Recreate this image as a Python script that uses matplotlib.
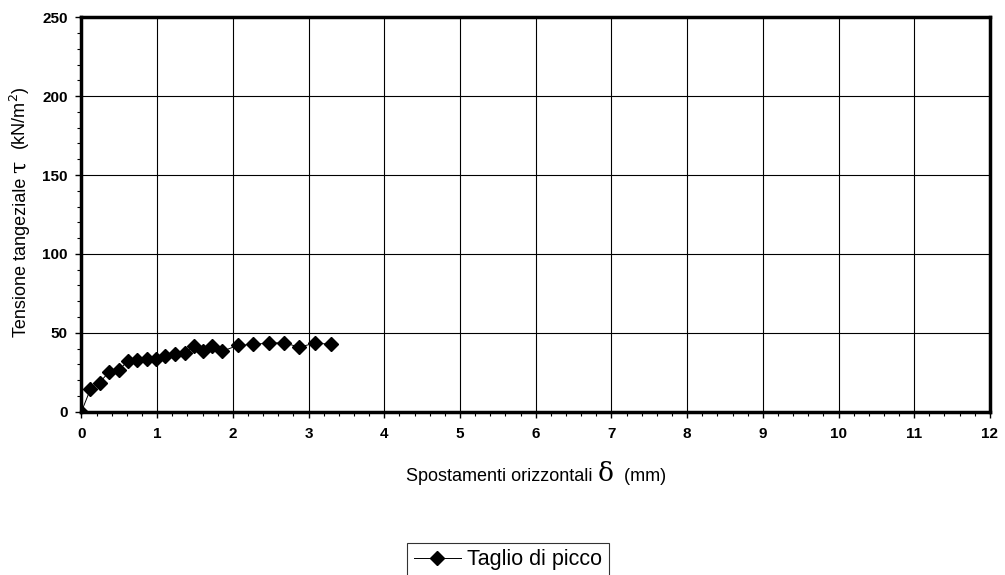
import matplotlib
matplotlib.use("Agg")
import matplotlib.pyplot as plt
from matplotlib.ticker import MultipleLocator

plt.rcParams['font.family'] = ['Liberation Sans', 'DejaVu Sans']

# Dati: spostamenti (mm) e tensione tangenziale (kN/m2)
spostamenti = [0.0, 0.12, 0.24, 0.36, 0.49, 0.61, 0.74, 0.86, 0.99, 1.11, 1.24,
               1.37, 1.49, 1.61, 1.73, 1.86, 2.07, 2.27, 2.48, 2.68, 2.88,
               3.09, 3.30]
tensione = [0.0, 14.3, 18.5, 24.9, 26.2, 31.9, 32.6, 33.4, 33.4, 35.5, 36.8,
            37.2, 41.5, 38.3, 41.9, 38.3, 42.1, 42.6, 43.6, 43.6, 40.9,
            43.6, 42.6]
serie = "Taglio di picco"

# pezzi delle etichette: (testo, dimensione, famiglia)
etich_x = [('Spostamenti orizzontali ', 13, 'Liberation Sans'),
           ('δ', 19, 'DejaVu Serif'),
           ('  (mm)', 13, 'Liberation Sans')]
etich_y = [('Tensione tangeziale ', 13, 'Liberation Sans'),
           ('τ', 16, 'DejaVu Serif'),
           (r'  (kN/m$^2$)', 13, 'Liberation Sans')]

fig = plt.figure(figsize=(10.05, 5.75), dpi=100)
ax = fig.add_axes([0.081, 0.284, 0.904, 0.686])

ax.plot(spostamenti, tensione, color='black', linewidth=0.7, marker='D',
        markersize=7.5, markerfacecolor='black', markeredgecolor='black',
        label=serie)

ax.set_xlim(0, 12)
ax.set_ylim(0, 250)
ax.xaxis.set_major_locator(MultipleLocator(1))
ax.xaxis.set_minor_locator(MultipleLocator(0.2))
ax.yaxis.set_major_locator(MultipleLocator(50))
ax.yaxis.set_minor_locator(MultipleLocator(10))
ax.grid(True, which='major', color='black', linewidth=0.8)
ax.set_axisbelow(True)

for s in ax.spines.values():
    s.set_linewidth(2.5)
ax.tick_params(which='major', direction='out', length=4, width=1,
               labelsize=11)
ax.tick_params(axis='x', which='major', pad=7)
ax.tick_params(axis='y', which='major', pad=6)
ax.tick_params(which='minor', direction='out', length=3, width=0.8)
for lab in ax.get_xticklabels() + ax.get_yticklabels():
    lab.set_fontweight('bold')


def scrivi(pezzi, cx, cy, ruota):
    # mette i pezzi uno dopo l'altro sulla stessa linea di base, centrati
    W, H = fig.bbox.width, fig.bbox.height
    testi = []
    for t, sz, fam in pezzi:
        testi.append(fig.text(0, 0, t, fontsize=sz, family=[fam, 'DejaVu Sans'],
                              rotation=90 if ruota else 0, rotation_mode='anchor',
                              ha='left', va='baseline'))
    fig.canvas.draw()
    r = fig.canvas.get_renderer()
    lung = []
    for tx in testi:
        bb = tx.get_window_extent(r)
        lung.append(bb.height if ruota else bb.width)
    pos = (cy if ruota else cx) - sum(lung) / 2
    for tx, l in zip(testi, lung):
        if ruota:
            tx.set_position((cx / W, pos / H))
        else:
            tx.set_position((pos / W, cy / H))
        pos += l


scrivi(etich_x, 536, 575 - 481, False)
scrivi(etich_y, 26, 575 - 212, True)

leg = fig.legend(loc='upper center', bbox_to_anchor=(0.5055, 1 - 543 / 575),
                 fontsize=15.5, frameon=True, fancybox=False, edgecolor='black',
                 handlelength=2.2, handletextpad=0.3, borderpad=0.3,
                 borderaxespad=0)
leg.get_frame().set_linewidth(0.8)

plt.savefig('out.png', dpi=100)
